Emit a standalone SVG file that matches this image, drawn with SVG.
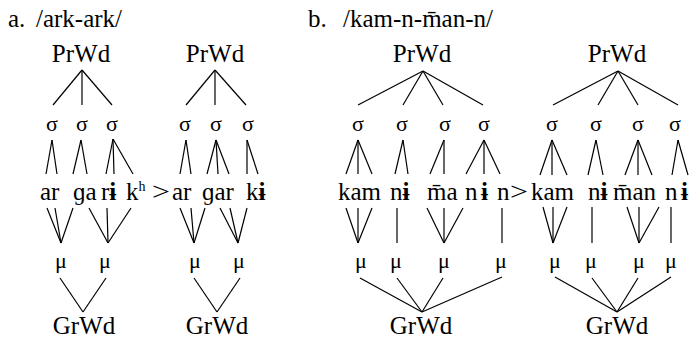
<svg xmlns="http://www.w3.org/2000/svg" width="697" height="339" viewBox="0 0 697 339">
<style>
text{font-family:'Liberation Serif','Times New Roman',Tinos,'Noto Serif','DejaVu Serif',FreeSerif,serif;font-size:25px;fill:#000}
.lbl{text-anchor:middle}
.sg{text-anchor:middle;font-size:22px}
.mu{text-anchor:middle;font-size:22px}
.b{font-weight:bold}
.sup{font-size:14px}
#edges line{stroke:#000;stroke-width:1.2}
</style>
<rect width="697" height="339" fill="#fff"/>
<g id="title-a"><text x="8" y="27">a.</text><text x="36" y="27">/ark-ark/</text></g>
<g id="title-b"><text x="308" y="27">b.</text><text x="343" y="27">/kam-n-m̄an-n/</text></g>

<g id="edges">
<line x1="82" y1="70" x2="53" y2="105"/><line x1="82" y1="70" x2="82" y2="105"/><line x1="82" y1="70" x2="112" y2="105"/>
<line x1="52" y1="140" x2="46" y2="174"/><line x1="52" y1="140" x2="57" y2="174"/>
<line x1="81" y1="140" x2="73" y2="174"/><line x1="81" y1="140" x2="87" y2="174"/>
<line x1="113" y1="139" x2="106" y2="174"/><line x1="113" y1="139" x2="114" y2="174"/><line x1="113" y1="139" x2="133" y2="174"/>
<line x1="47" y1="208" x2="61" y2="243"/><line x1="55" y1="208" x2="61" y2="243"/><line x1="73" y1="208" x2="61" y2="243"/>
<line x1="89" y1="208" x2="108" y2="243"/><line x1="107" y1="208" x2="108" y2="243"/><line x1="131" y1="208" x2="108" y2="243"/>
<line x1="60" y1="278" x2="83" y2="312"/><line x1="106" y1="278" x2="83" y2="312"/>
<line x1="215" y1="70" x2="186" y2="105"/><line x1="215" y1="70" x2="215" y2="105"/><line x1="215" y1="70" x2="246" y2="105"/>
<line x1="186" y1="140" x2="180" y2="174"/><line x1="186" y1="140" x2="191" y2="174"/>
<line x1="216" y1="140" x2="207" y2="174"/><line x1="216" y1="140" x2="218" y2="174"/><line x1="216" y1="140" x2="229" y2="174"/>
<line x1="247" y1="140" x2="247" y2="174"/><line x1="247" y1="140" x2="258" y2="174"/>
<line x1="180" y1="208" x2="194" y2="243"/><line x1="191" y1="208" x2="194" y2="243"/><line x1="205" y1="208" x2="194" y2="243"/>
<line x1="220" y1="208" x2="238" y2="243"/><line x1="230" y1="208" x2="238" y2="243"/><line x1="247" y1="208" x2="238" y2="243"/>
<line x1="194" y1="278" x2="217" y2="312"/><line x1="240" y1="278" x2="217" y2="312"/>
<line x1="423" y1="71" x2="358" y2="105"/><line x1="423" y1="71" x2="403" y2="105"/><line x1="423" y1="71" x2="443" y2="105"/><line x1="423" y1="71" x2="483" y2="105"/>
<line x1="358" y1="140" x2="346" y2="174"/><line x1="358" y1="140" x2="358" y2="174"/><line x1="358" y1="140" x2="372" y2="174"/>
<line x1="403" y1="140" x2="395" y2="174"/><line x1="403" y1="140" x2="408" y2="174"/>
<line x1="444" y1="140" x2="430" y2="174"/><line x1="444" y1="140" x2="444" y2="174"/>
<line x1="484" y1="140" x2="466" y2="174"/><line x1="484" y1="140" x2="484" y2="174"/><line x1="484" y1="140" x2="500" y2="174"/>
<line x1="346" y1="208" x2="358" y2="243"/><line x1="358" y1="208" x2="358" y2="243"/><line x1="372" y1="208" x2="358" y2="243"/>
<line x1="397" y1="208" x2="397" y2="243"/>
<line x1="427" y1="208" x2="444" y2="243"/><line x1="444" y1="208" x2="444" y2="243"/><line x1="463" y1="208" x2="444" y2="243"/>
<line x1="502" y1="208" x2="502" y2="243"/>
<line x1="360" y1="278" x2="422" y2="312"/><line x1="397" y1="278" x2="422" y2="312"/><line x1="443" y1="278" x2="422" y2="312"/><line x1="502" y1="277" x2="422" y2="312"/>
<line x1="618" y1="71" x2="553" y2="105"/><line x1="618" y1="71" x2="598" y2="105"/><line x1="618" y1="71" x2="638" y2="105"/><line x1="618" y1="71" x2="678" y2="105"/>
<line x1="552" y1="140" x2="540" y2="175"/><line x1="552" y1="140" x2="552" y2="175"/><line x1="552" y1="140" x2="567" y2="175"/>
<line x1="596" y1="140" x2="588" y2="175"/><line x1="596" y1="140" x2="603" y2="175"/>
<line x1="638" y1="140" x2="625" y2="175"/><line x1="638" y1="140" x2="638" y2="175"/><line x1="638" y1="140" x2="652" y2="175"/>
<line x1="678" y1="140" x2="672" y2="175"/><line x1="678" y1="140" x2="688" y2="175"/>
<line x1="543" y1="207" x2="553" y2="243"/><line x1="553" y1="207" x2="553" y2="243"/><line x1="567" y1="207" x2="553" y2="243"/>
<line x1="592" y1="207" x2="592" y2="243"/>
<line x1="627" y1="207" x2="639" y2="243"/><line x1="639" y1="207" x2="639" y2="243"/><line x1="659" y1="207" x2="639" y2="243"/>
<line x1="671" y1="207" x2="671" y2="243"/>
<line x1="555" y1="277" x2="617" y2="312"/><line x1="592" y1="278" x2="617" y2="312"/><line x1="638" y1="278" x2="617" y2="312"/><line x1="671" y1="277" x2="617" y2="312"/>
</g>

<g id="a1-prwd"><text class="lbl" x="81" y="62">PrWd</text></g>
<g id="a1-s1"><text class="sg" x="52" y="131">σ</text></g>
<g id="a1-s2"><text class="sg" x="82" y="131">σ</text></g>
<g id="a1-s3"><text class="sg" x="112" y="131">σ</text></g>
<g id="a1-segs"><text x="40" y="200">ar</text><text x="73" y="200">ɡa</text><text x="101" y="200">r<tspan class="b">ɨ</tspan></text><text x="126" y="200">k<tspan class="sup" dy="-9">h</tspan></text></g>
<g id="a1-m1"><text class="mu" x="61" y="268">μ</text></g>
<g id="a1-m2"><text class="mu" x="105" y="268">μ</text></g>
<g id="a1-grwd"><text class="lbl" x="84" y="334">GrWd</text></g>
<g id="a-gt"><text x="152" y="200" textLength="18" lengthAdjust="spacingAndGlyphs">&gt;</text></g>
<g id="a2-prwd"><text class="lbl" x="215" y="62">PrWd</text></g>
<g id="a2-s1"><text class="sg" x="185" y="131">σ</text></g>
<g id="a2-s2"><text class="sg" x="216" y="131">σ</text></g>
<g id="a2-s3"><text class="sg" x="248" y="131">σ</text></g>
<g id="a2-segs"><text x="172" y="200">ar</text><text x="202" y="200">ɡar</text><text x="246" y="200">k<tspan class="b">ɨ</tspan></text></g>
<g id="a2-m1"><text class="mu" x="195" y="268">μ</text></g>
<g id="a2-m2"><text class="mu" x="239" y="268">μ</text></g>
<g id="a2-grwd"><text class="lbl" x="217" y="334">GrWd</text></g>
<g id="b1-prwd"><text class="lbl" x="422" y="62">PrWd</text></g>
<g id="b1-s1"><text class="sg" x="358" y="131">σ</text></g>
<g id="b1-s2"><text class="sg" x="402" y="131">σ</text></g>
<g id="b1-s3"><text class="sg" x="445" y="131">σ</text></g>
<g id="b1-s4"><text class="sg" x="484" y="131">σ</text></g>
<g id="b1-segs"><text x="338" y="200">kam</text><text x="390" y="200">n<tspan class="b">ɨ</tspan></text><text x="427" y="200">m̄a</text><text x="465" y="200">n</text><text class="b" x="481" y="200">ɨ</text><text x="497" y="200">n</text></g>
<g id="b1-m1"><text class="mu" x="361" y="268">μ</text></g>
<g id="b1-m2"><text class="mu" x="396" y="268">μ</text></g>
<g id="b1-m3"><text class="mu" x="444" y="268">μ</text></g>
<g id="b1-m4"><text class="mu" x="501" y="268">μ</text></g>
<g id="b1-grwd"><text class="lbl" x="421" y="334">GrWd</text></g>
<g id="b-gt"><text x="510" y="200" textLength="18" lengthAdjust="spacingAndGlyphs">&gt;</text></g>
<g id="b2-prwd"><text class="lbl" x="617" y="62">PrWd</text></g>
<g id="b2-s1"><text class="sg" x="552" y="131">σ</text></g>
<g id="b2-s2"><text class="sg" x="596" y="131">σ</text></g>
<g id="b2-s3"><text class="sg" x="638" y="131">σ</text></g>
<g id="b2-s4"><text class="sg" x="675" y="131">σ</text></g>
<g id="b2-segs"><text x="531" y="200">kam</text><text x="588" y="200">n<tspan class="b">ɨ</tspan></text><text x="613" y="200">m̄an</text><text x="665" y="200">n</text><text class="b" x="681" y="200">ɨ</text></g>
<g id="b2-m1"><text class="mu" x="555" y="268">μ</text></g>
<g id="b2-m2"><text class="mu" x="591" y="268">μ</text></g>
<g id="b2-m3"><text class="mu" x="639" y="268">μ</text></g>
<g id="b2-m4"><text class="mu" x="671" y="268">μ</text></g>
<g id="b2-grwd"><text class="lbl" x="617" y="334">GrWd</text></g>
</svg>
